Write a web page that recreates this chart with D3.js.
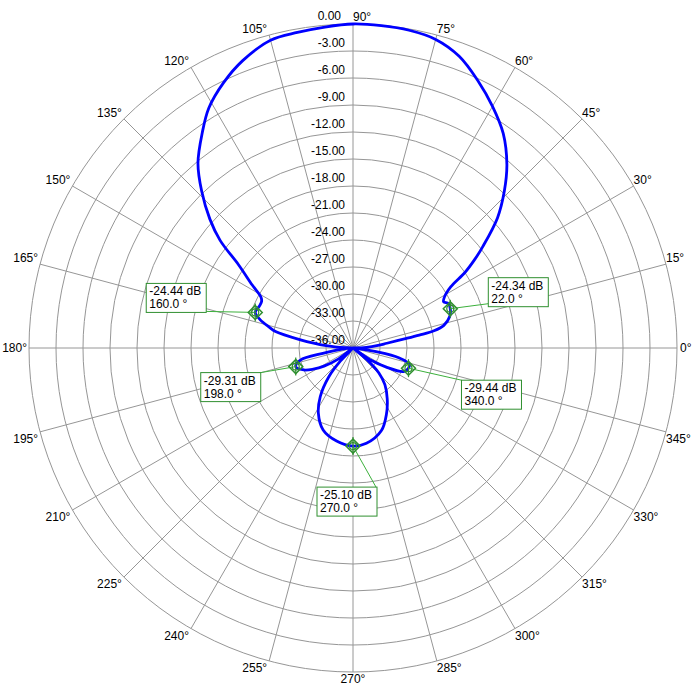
<!DOCTYPE html>
<html>
<head>
<meta charset="utf-8">
<script src="https://cdn.jsdelivr.net/npm/d3@7"></script>
<style>
  body { margin: 0; background: #fff; }
  svg { display: block; font-family: "Liberation Sans", Arial, sans-serif; }
</style>
</head>
<body>
<script>
const width = 700, height = 689;
const cx = 353, cy = 348, R = 324;

// pattern: angle (deg, 0 = right, ccw) and level (dB)
const patternAngles = [
  0, 3, 6, 8, 10, 11, 12, 14, 18, 22, 25, 27, 29, 32, 34, 36, 38, 42, 46, 50,
  55, 60, 65, 70, 75, 80, 85, 90, 95, 100, 105, 111, 116, 121, 125, 130, 134, 138, 141, 144,
  148, 151, 153, 156, 160, 163, 166, 168, 171, 175, 178, 181, 185, 190, 193, 198, 204, 208, 212, 217,
  222, 226, 230, 236, 242, 250, 260, 270, 278, 289, 297, 304, 311, 316, 320, 323, 326, 330, 335, 340,
  344, 348, 351, 354, 357
];
const patternDb = [
  -36, -34.5, -33.2, -32.2, -30.2, -28.5, -26.8, -25.6, -24.7, -24.34, -24.3, -24.7, -24.4, -23.2, -21, -19.3, -17.7, -14.4, -11.8, -9.4,
  -6.9, -5.0, -3.2, -1.5, -0.5, -0.15, -0.05, 0, -0.2, -0.4, -0.6, -1.8, -3.2, -4.9, -6.8, -9.2, -11.8, -14.6, -17, -20.3,
  -22.8, -24.3, -24.6, -24.6, -24.44, -25.2, -26.4, -27.2, -30, -33, -35.2, -36, -35, -32.6, -30, -29.31, -30, -31, -32.2, -34,
  -36, -34, -31.8, -29.5, -27.8, -26.3, -25.5, -25.1, -25.3, -26.3, -27.8, -29.2, -30.6, -32, -34, -36, -33.5, -31.8, -29.8, -29.44,
  -29.5, -30.8, -33.4, -35.4, -36
];

const ringDb = [0, -3, -6, -9, -12, -15, -18, -21, -24, -27, -30, -33, -36];
const spokeAngles = d3.range(0, 360, 15);

const markerAngles = [160, 22, 198, 340, 270];
const markerDb = [-24.44, -24.34, -29.31, -29.44, -25.10];
// label box placement (box top-left offset from marker, and which corner the leader meets)
const boxLayout = [
  { dx: -109, dy: -29, lx: 60, ly: 28 },
  { dx: 38, dy: -31, lx: 0, ly: 26 },
  { dx: -95, dy: 6, lx: 60, ly: 0 },
  { dx: 53, dy: 12, lx: 0, ly: 0 },
  { dx: -36, dy: 41, lx: 59, ly: 0 }
];

const r = d3.scaleLinear().domain([-36, 0]).range([0, R]).clamp(true);
const rad = a => a * Math.PI / 180;
const px = (a, db) => [cx + r(db) * Math.cos(rad(a)), cy - r(db) * Math.sin(rad(a))];

const svg = d3.select("body").append("svg")
  .attr("width", width).attr("height", height);

const g = svg.append("g");

// rings
g.selectAll("circle.ring")
  .data(ringDb.filter(d => d > -36))
  .join("circle")
  .attr("class", "ring")
  .attr("cx", cx).attr("cy", cy)
  .attr("r", d => r(d))
  .attr("fill", "none")
  .attr("stroke", "#969696")
  .attr("stroke-width", 1);

// spokes
g.selectAll("line.spoke")
  .data(spokeAngles)
  .join("line")
  .attr("class", "spoke")
  .attr("x1", cx).attr("y1", cy)
  .attr("x2", d => cx + R * Math.cos(rad(d)))
  .attr("y2", d => cy - R * Math.sin(rad(d)))
  .attr("stroke", "#969696")
  .attr("stroke-width", 1);

// angle labels
spokeAngles.forEach(a => {
  const ex = cx + R * Math.cos(rad(a));
  const ey = cy - R * Math.sin(rad(a));
  let x = ex, y, anchor;
  if (a === 0) { x = ex + 3; y = ey + 4; anchor = "start"; }
  else if (a === 180) { x = ex - 2; y = ey + 4; anchor = "end"; }
  else if (a === 90) { x = ex; y = ey - 3; anchor = "start"; }
  else if (a === 270) { x = ex; y = ey + 11; anchor = "middle"; }
  else {
    anchor = Math.cos(rad(a)) > 0 ? "start" : "end";
    if (anchor === "end") x = ex - 2;
    y = a < 180 ? ey - 2 : ey + 11;
  }
  svg.append("text")
    .attr("x", x).attr("y", y)
    .attr("text-anchor", anchor)
    .style("font-size", "12px")
    .attr("fill", "#000")
    .text(a + "°");
});

// dB labels along the 90° spoke
svg.selectAll("text.db")
  .data(ringDb)
  .join("text")
  .attr("class", "db")
  .attr("x", d => d === 0 ? cx - 12 : cx - 8)
  .attr("y", d => cy - r(d) - 4)
  .attr("text-anchor", "end")
  .style("font-size", "12px")
  .attr("fill", "#000")
  .text(d => d.toFixed(2));

// pattern
const pts = patternAngles.map((a, i) => ({ a, db: patternDb[i] }));
const line = d3.lineRadial()
  .angle(d => rad(90 - d.a))
  .radius(d => r(d.db))
  .curve(d3.curveCatmullRomClosed.alpha(0.5));

svg.append("path")
  .attr("transform", `translate(${cx},${cy})`)
  .attr("d", line(pts))
  .attr("fill", "none")
  .attr("stroke", "#0000ff")
  .attr("stroke-width", 2.8)
  .attr("stroke-linejoin", "round");

// markers + labels
const green = "#2f8f2f";
markerAngles.forEach((a, i) => {
  const [mx, my] = px(a, markerDb[i]);
  const b = boxLayout[i];
  const bx = mx + b.dx, by = my + b.dy;

  svg.append("line")
    .attr("x1", mx).attr("y1", my)
    .attr("x2", bx + b.lx).attr("y2", by + b.ly)
    .attr("stroke", "#3cb03c")
    .attr("stroke-width", 1);

  const m = svg.append("g").attr("transform", `translate(${mx},${my})`);
  m.append("path")
    .attr("d", "M0,-7L7,0L0,7L-7,0Z")
    .attr("fill", "none")
    .attr("stroke", green)
    .attr("stroke-width", 1.5);
  m.append("line")
    .attr("x1", 0).attr("y1", -9).attr("x2", 0).attr("y2", 9)
    .attr("stroke", green).attr("stroke-width", 1.2);
  m.append("circle")
    .attr("r", 3.5)
    .attr("fill", "none")
    .attr("stroke", green)
    .attr("stroke-width", 1.2);

  svg.append("rect")
    .attr("x", bx).attr("y", by)
    .attr("width", 60).attr("height", 29)
    .attr("fill", "#fff")
    .attr("stroke", green)
    .attr("stroke-width", 1);

  svg.append("text")
    .attr("x", bx + 3).attr("y", by + 12)
    .style("font-size", "12px")
    .text(markerDb[i].toFixed(2) + " dB");
  svg.append("text")
    .attr("x", bx + 3).attr("y", by + 25)
    .style("font-size", "12px")
    .text(a.toFixed(1) + " °");
});
</script>
</body>
</html>
